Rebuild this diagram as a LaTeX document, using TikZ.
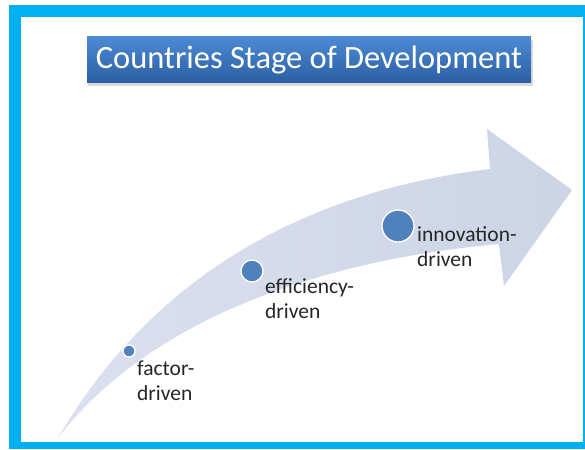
\documentclass[tikz,border=0pt]{standalone}
\usepackage{fontspec}
\usepackage{tikz}
\setmainfont{Carlito}
\usetikzlibrary{calc}
\definecolor{framecyan}{rgb}{0.,0.69,0.94}
\definecolor{titletop}{rgb}{0.30,0.54,0.83}
\definecolor{titlebot}{rgb}{0.17,0.37,0.64}
\definecolor{arrowlight}{rgb}{0.86,0.88,0.94}
\definecolor{arrowblue}{rgb}{0.80,0.83,0.90}
\definecolor{dotblue}{rgb}{0.31,0.51,0.74}
\tikzstyle{stagedot}=[circle,fill=dotblue,draw=white,line width=1.3pt,inner sep=0pt]
\tikzstyle{stagelabel}=[anchor=base west,align=left,inner sep=0pt,text=black!85,font=\fontsize{21.5}{25}\selectfont]

\begin{document}
\begin{tikzpicture}[line cap=round,line join=round,x=1pt,y=-1pt]
            \useasboundingbox (0,0) rectangle (585,449);
            \fill [white] (0,0) rectangle (585,449);
            % frame
            \fill [framecyan] (9,5) rectangle (585,449);
            \fill [white] (21,17) rectangle (583,442);
            % title
            \fill [black!20,opacity=0.7] (88,40) rectangle (533,86);
            \node [top color=titletop,bottom color=titlebot,minimum width=444pt,minimum height=46pt,inner sep=0pt,text=white,font=\fontsize{32.5}{38}\selectfont] (title) at (309,60) {Countries Stage of Development};
            % curved arrow
            \shade [left color=arrowlight,right color=arrowblue] (58,438) .. controls (150,280) and (300,192) .. (490,169) -- (487,129) -- (572,190) -- (504,286) -- (499,244) .. controls (300,262) and (140,330) .. (58,438) -- cycle;
            % stages
            \node [stagedot,minimum size=12pt] (factor) at (129,351) {};
            \node [stagedot,minimum size=22pt] (efficiency) at (252,271) {};
            \node [stagedot,minimum size=32pt] (innovation) at (398,226) {};
            \node [stagelabel] (factorlbl) at (137,400) {factor-\\driven};
            \node [stagelabel] (efficiencylbl) at (265,318) {efficiency-\\driven};
            \node [stagelabel] (innovationlbl) at (417,266) {innovation-\\driven};
\end{tikzpicture}
\end{document}
